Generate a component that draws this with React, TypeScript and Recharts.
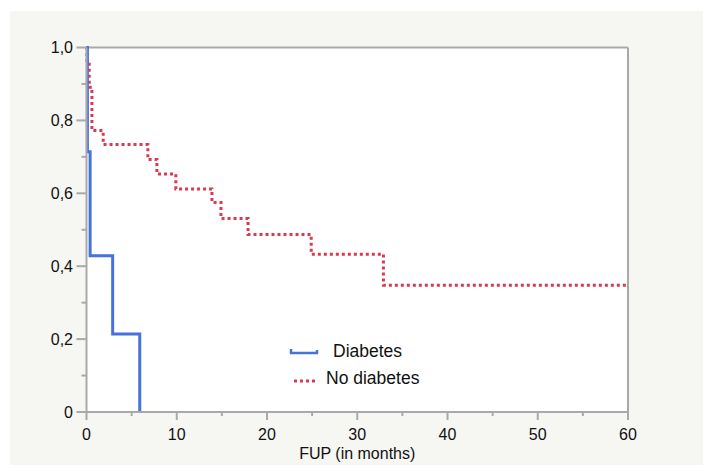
import React from "react";
import { LineChart, Line, XAxis, YAxis, ReferenceLine, Legend, Label, CartesianGrid } from "recharts";

// ---- data ----
const diabetesTime = [0, 0.1, 0.4, 2.9, 5.9];
const diabetesSurv = [1, 0.714, 0.429, 0.214, 0];

const noDiabetesTime = [0, 0.05, 0.3, 0.6, 1.85, 6.8, 7.8, 9.9, 13.9, 14.9, 17.9, 24.9, 32.9, 60];
const noDiabetesSurv = [1, 0.965, 0.891, 0.772, 0.734, 0.693, 0.653, 0.612, 0.575, 0.531, 0.487, 0.433, 0.348, 0.348];

const xMajorTicks = [0, 10, 20, 30, 40, 50, 60];
const xMinorTicks = [5, 15, 25, 35, 45, 55];
const xTickLabels = ["0", "10", "20", "30", "40", "50", "60"];

const yMajorTicks = [0, 0.2, 0.4, 0.6, 0.8, 1];
const yMinorTicks = [0.1, 0.3, 0.5, 0.7, 0.9];
const yTickLabels = ["0", "0,2", "0,4", "0,6", "0,8", "1,0"];

const seriesNames = ["Diabetes", "No diabetes"];
const axisTitle = "FUP (in months)";

const diabetesData = diabetesTime.map((t, i) => ({ t, s: diabetesSurv[i] }));
const noDiabetesData = noDiabetesTime.map((t, i) => ({ t, s: noDiabetesSurv[i] }));
const xTicks = [...xMajorTicks, ...xMinorTicks].sort((a, b) => a - b);
const yTicks = [...yMajorTicks, ...yMinorTicks].sort((a, b) => a - b);

const FONT = "'Liberation Sans', Arial, Helvetica, sans-serif";
const AXIS = "#a9a9a9";
const BLUE = "#4672dc";
const RED = "#d93a50";

const XTick = (props: any) => {
  const { x, y, payload } = props;
  const v = payload.value;
  const idx = xMajorTicks.indexOf(v);
  const major = idx >= 0;
  return (
    <g>
      <line x1={x} x2={x} y1={y} y2={y + (major ? 8 : 4)} stroke={AXIS} strokeWidth={2} />
      {major && (
        <text x={x} y={y + 28} textAnchor="middle" fontSize={16} fontFamily={FONT} fill="#111">
          {xTickLabels[idx]}
        </text>
      )}
    </g>
  );
};

const YTick = (props: any) => {
  const { x, y, payload } = props;
  const v = payload.value;
  const idx = yMajorTicks.findIndex((m) => Math.abs(m - v) < 1e-9);
  const major = idx >= 0;
  return (
    <g>
      <line x1={x} x2={x - (major ? 10 : 5)} y1={y} y2={y} stroke={AXIS} strokeWidth={2} />
      {major && (
        <text x={x - 13.5} y={y + 5.8} textAnchor="end" fontSize={16} fontFamily={FONT} fill="#111">
          {yTickLabels[idx]}
        </text>
      )}
    </g>
  );
};

const renderLegend = (props: any) => {
  const payload = props.payload || [];
  const d = payload.find((p: any) => p.value === seriesNames[0]);
  const n = payload.find((p: any) => p.value === seriesNames[1]);
  return (
    <svg width={170} height={60} style={{ display: "block" }}>
      {d && (
        <g>
          <path d="M10,14 V18 H36 V15" fill="none" stroke={d.color} strokeWidth={2.5} />
          <text x={52} y={22} fontSize={17.5} fontFamily={FONT} fill="#111">{d.value}</text>
        </g>
      )}
      {n && (
        <g>
          <line x1={13} x2={35} y1={46} y2={46} stroke={n.color} strokeWidth={3} strokeDasharray="3 3" />
          <text x={45} y={49} fontSize={17.5} fontFamily={FONT} fill="#111">{n.value}</text>
        </g>
      )}
    </svg>
  );
};

export default function App() {
  return (
    <div style={{ position: "absolute", left: 10, top: 11, width: 693, height: 454, background: "#f6f6f2" }}>
      <LineChart
        width={693}
        height={454}
        margin={{ top: 36.5, right: 75, bottom: 0, left: 0.5 }}
      >
        <CartesianGrid horizontal={false} vertical={false} fill="#ffffff" fillOpacity={1} />
        <XAxis
          type="number"
          dataKey="t"
          domain={[0, 60]}
          ticks={xTicks}
          interval={0}
          height={53}
          tickSize={0}
          tickMargin={0}
          tickLine={false}
          axisLine={{ stroke: AXIS, strokeWidth: 2 }}
          tick={<XTick />}
        >
          <Label
            content={(p: any) => {
              const vb = p.viewBox;
              return (
                <text x={vb.x + vb.width / 2} y={vb.y + 46.5} textAnchor="middle" fontSize={16} fontFamily={FONT} fill="#111">
                  {axisTitle}
                </text>
              );
            }}
          />
        </XAxis>
        <YAxis
          type="number"
          domain={[0, 1]}
          ticks={yTicks}
          interval={0}
          width={76}
          tickSize={0}
          tickMargin={0}
          tickLine={false}
          axisLine={{ stroke: AXIS, strokeWidth: 2 }}
          tick={<YTick />}
        />
        <ReferenceLine y={1} stroke={AXIS} strokeWidth={2} ifOverflow="extendDomain" />
        <ReferenceLine x={60} stroke={AXIS} strokeWidth={2} ifOverflow="extendDomain" />
        <Line
          name={seriesNames[1]}
          data={noDiabetesData}
          dataKey="s"
          type="stepAfter"
          stroke={RED}
          strokeWidth={3}
          strokeDasharray="3 3"
          dot={false}
          activeDot={false}
          isAnimationActive={false}
        />
        <Line
          name={seriesNames[0]}
          data={diabetesData}
          dataKey="s"
          type="stepAfter"
          stroke={BLUE}
          strokeWidth={3}
          dot={false}
          activeDot={false}
          isAnimationActive={false}
        />
        <Legend
          layout="vertical"
          align="center"
          verticalAlign="middle"
          content={renderLegend}
          wrapperStyle={{ position: "absolute", left: 271, top: 324, width: 170, height: 60 }}
        />
      </LineChart>
    </div>
  );
}
